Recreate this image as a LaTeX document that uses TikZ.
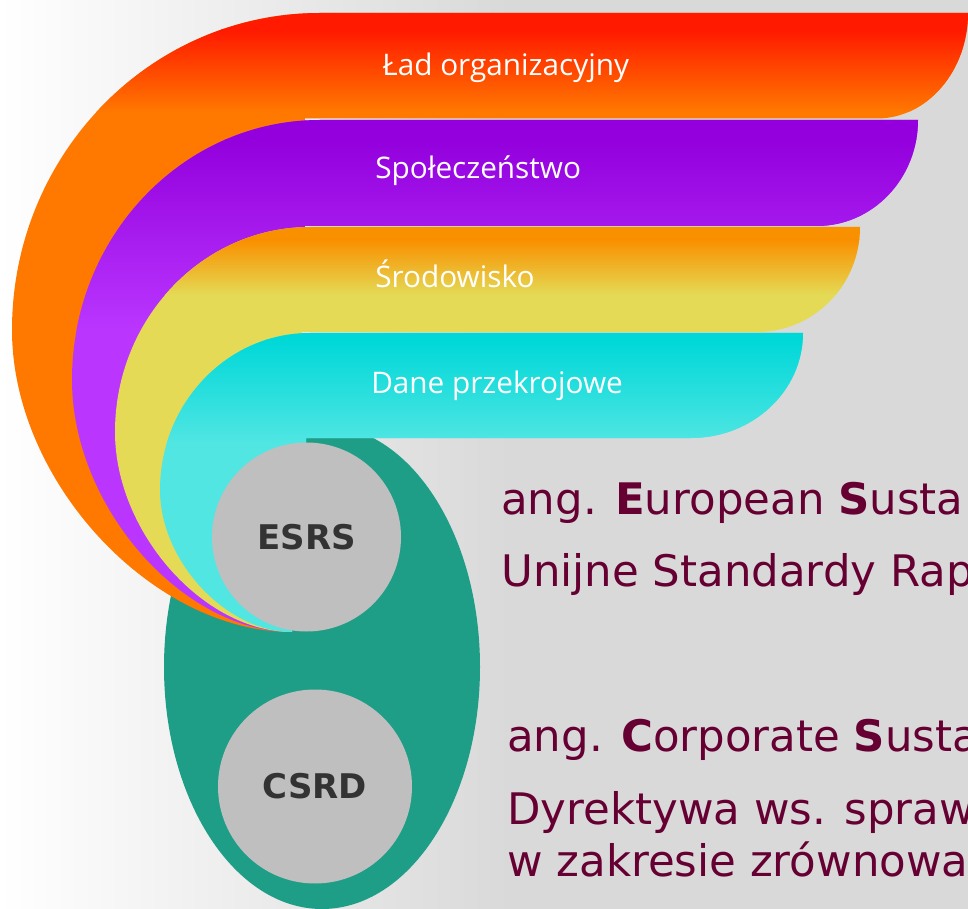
\documentclass[tikz,border=0pt]{standalone}
\usepackage{fontspec}
\setmainfont{DejaVu Sans}
\newfontfamily\bandfont{Open Sans}
\usetikzlibrary{shapes.geometric}
\definecolor{bggray}{RGB}{217,217,217}
\definecolor{ovalgreen}{RGB}{31,158,135}
\definecolor{discgray}{RGB}{191,191,191}
\definecolor{labelgray}{RGB}{51,51,51}
\definecolor{maroon}{RGB}{102,0,51}
\definecolor{redtop}{RGB}{255,26,0}
\definecolor{orng}{RGB}{255,120,0}
\definecolor{purptop}{RGB}{147,0,221}
\definecolor{purp}{RGB}{186,54,255}
\definecolor{yeltop}{RGB}{249,144,0}
\definecolor{yel}{RGB}{228,218,85}
\definecolor{cyantop}{RGB}{0,216,216}
\definecolor{cyn}{RGB}{82,230,227}
\tikzset{
  redband/.style={insert path={(320,13) -- (968,13) .. controls (968,71) and (927.2,118.5) .. (877,118.5) -- (305,118.5) -- (292,632) .. controls (152,632) and (12,481) .. (12,330) .. controls (12,155) and (150,13) .. (320,13) -- cycle}},
  purpband/.style={insert path={(320,120) -- (918,120) .. controls (918,178.5) and (872.8,226) .. (817,226) -- (305,226) -- (292,632) .. controls (182,632) and (72,506) .. (72,380) .. controls (72,236.5) and (183,120) .. (320,120) -- cycle}},
  yelband/.style={insert path={(310,227) -- (860,227) .. controls (860,285) and (813.9,332) .. (757,332) -- (302,332) -- (292,632) .. controls (203.5,632) and (115,532) .. (115,432) .. controls (115,319) and (202.4,227) .. (310,227) -- cycle}},
  cyanband/.style={insert path={(310,333) -- (803,333) .. controls (803,391) and (752.8,438) .. (691,438) -- (306,438) -- (306,540) -- (292,632) .. controls (226,632) and (160,561) .. (160,490) .. controls (160,403.3) and (227.2,333) .. (310,333) -- cycle}},
  bandlabel/.style={anchor=base west, inner sep=0pt, text=white, font=\bandfont\fontsize{22.3}{27}\selectfont},
  disc/.style={circle, fill=discgray, inner sep=0pt, text=labelgray, font=\bfseries\fontsize{25.5}{30}\selectfont},
  desc/.style={anchor=base west, inner sep=0pt, text=maroon, font=\fontsize{32.6}{39}\selectfont}
}
\begin{document}
\begin{tikzpicture}[x=0.75pt,y=-0.75pt]
\useasboundingbox (0,0) rectangle (968,909);
\clip (0,0) rectangle (968,909);
% background
\shade[left color=white, right color=bggray] (0,0) rectangle (510,909);
\fill[bggray] (509.5,0) rectangle (968,909);
% green oval
\node[ellipse, fill=ovalgreen, minimum width=237pt, minimum height=363pt, inner sep=0pt] (oval) at (322,667) {};
% red band
\fill[orng, redband];
\begin{scope}
  \path[clip, redband];
  \fill[redtop] (0,0) rectangle (968,30);
  \shade[top color=redtop, bottom color=orng] (0,30) rectangle (968,112);
\end{scope}
% purple band
\fill[purp, purpband];
\begin{scope}
  \path[clip, purpband];
  \fill[purptop] (0,100) rectangle (968,140);
  \shade[top color=purptop, bottom color=purp] (0,140) rectangle (968,330);
\end{scope}
% yellow band
\fill[yel, yelband];
\begin{scope}
  \path[clip, yelband];
  \fill[yeltop] (0,200) rectangle (968,240);
  \shade[top color=yeltop, bottom color=yel] (0,240) rectangle (968,295);
\end{scope}
% cyan band
\fill[cyn, cyanband];
\begin{scope}
  \path[clip, cyanband];
  \fill[cyantop] (0,300) rectangle (968,340);
  \shade[top color=cyantop, bottom color=cyn] (0,340) rectangle (968,445);
\end{scope}
% band labels
\node[bandlabel] (lad) at (382,76) {Ład organizacyjny};
\node[bandlabel] (spol) at (375,179) {Społeczeństwo};
\node[bandlabel] (srod) at (375,288) {Środowisko};
\node[bandlabel] (dane) at (371,393) {Dane przekrojowe};
% discs
\node[disc, minimum size=141.75pt] (esrs) at (306.5,537) {ESRS};
\node[disc, minimum size=145.5pt] (csrd) at (315,786.5) {CSRD};
% descriptions
\node[desc] (esrsen) at (501,514) {ang. \textbf{E}uropean \textbf{S}usta};
\node[desc] (esrspl) at (501,586) {Unijne Standardy Rap};
\node[desc] (csrden) at (507,751) {ang. \textbf{C}orporate \textbf{S}usta};
\node[desc] (csrdpla) at (507,824) {Dyrektywa ws. spraw};
\node[desc] (csrdplb) at (507,876) {w zakresie zrównowa};
\end{tikzpicture}
\end{document}
